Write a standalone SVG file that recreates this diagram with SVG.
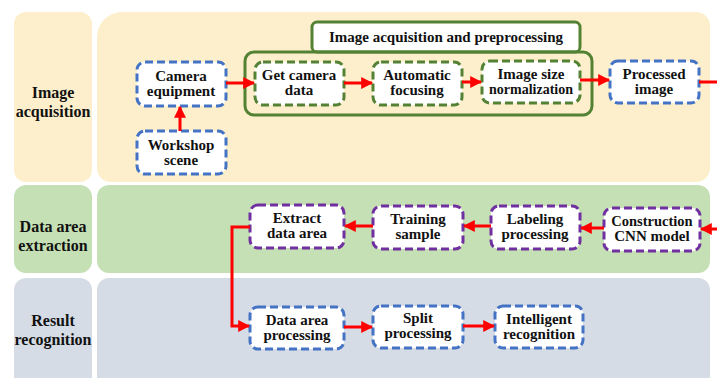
<svg xmlns="http://www.w3.org/2000/svg" width="717" height="378" viewBox="0 0 717 378">
<defs>
<marker id="ah" viewBox="0 0 10 10" refX="9" refY="5" markerWidth="4" markerHeight="4" markerUnits="strokeWidth" orient="auto">
<path d="M0,0 L10,5 L0,10 Z" fill="#FF0000"/>
</marker>
</defs>
<rect width="717" height="378" fill="#fff"/>
<g id="lanes">
<rect x="14" y="12" width="78" height="170" rx="12" fill="#FDEFCB"/>
<path d="M122,12 H696 a14,14 0 0 1 14,14 V168 a14,14 0 0 1 -14,14 H111 a14,14 0 0 1 -14,-14 V37 a25,25 0 0 1 25,-25 Z" fill="#FDEFCB"/>
<rect x="14" y="185" width="78" height="88" rx="12" fill="#C5E0B4"/>
<rect x="97" y="185" width="613" height="88" rx="12" fill="#C5E0B4"/>
<rect x="14" y="278" width="78" height="110" rx="12" fill="#D6DCE5"/>
<rect x="97" y="278" width="613" height="110" rx="12" fill="#D6DCE5"/>
</g>
<g id="preprocessing-frame">
<rect x="312" y="22" width="268" height="30" rx="5" fill="#fff" stroke="#548235" stroke-width="3"/>
<rect x="245" y="52" width="347" height="63" rx="9" fill="none" stroke="#548235" stroke-width="3"/>
</g>
<g id="nodes" fill="#fff" stroke-width="3" stroke-dasharray="8 4">
<rect id="camera" stroke="#4472C4" x="137" y="62" width="89" height="44" rx="8"/>
<rect id="workshop" stroke="#4472C4" x="137" y="131" width="89" height="43" rx="8"/>
<rect id="getdata" stroke="#548235" x="255" y="62" width="89" height="43" rx="8"/>
<rect id="focusing" stroke="#548235" x="373" y="62" width="89" height="43" rx="8"/>
<rect id="normalization" stroke="#548235" x="482" y="61" width="98" height="42" rx="8"/>
<rect id="processed" stroke="#4472C4" x="610" y="61" width="89" height="42" rx="8"/>
<rect id="cnn" stroke="#7030A0" x="604" y="208" width="96" height="43" rx="8"/>
<rect id="labeling" stroke="#7030A0" x="491" y="206" width="89" height="43" rx="8"/>
<rect id="training" stroke="#7030A0" x="373" y="206" width="90" height="43" rx="8"/>
<rect id="extract" stroke="#7030A0" x="250" y="205" width="94" height="43" rx="8"/>
<rect id="dataproc" stroke="#4472C4" x="250" y="307" width="94" height="42" rx="8"/>
<rect id="split" stroke="#4472C4" x="373" y="306" width="90" height="42" rx="8"/>
<rect id="intelligent" stroke="#4472C4" x="495" y="306" width="88" height="42" rx="8"/>
</g>
<g id="labels" font-family="Liberation Serif, serif" font-size="15" font-weight="bold" text-anchor="middle" fill="#111">
<text x="53" y="98" font-size="16">Image</text>
<text x="53" y="117" font-size="16">acquisition</text>
<text x="53" y="232" font-size="16">Data area</text>
<text x="53" y="251" font-size="16">extraction</text>
<text x="53" y="326" font-size="16">Result</text>
<text x="53" y="345" font-size="16">recognition</text>
<text x="446" y="42">Image acquisition and preprocessing</text>
<text x="181" y="81">Camera</text>
<text x="181" y="96">equipment</text>
<text x="181" y="150">Workshop</text>
<text x="181" y="165">scene</text>
<text x="299" y="80">Get camera</text>
<text x="299" y="95">data</text>
<text x="417" y="80">Automatic</text>
<text x="417" y="95">focusing</text>
<text x="531" y="79">Image size</text>
<text x="531" y="94" font-size="14">normalization</text>
<text x="654" y="79">Processed</text>
<text x="654" y="94">image</text>
<text x="652" y="226" font-size="14.5">Construction</text>
<text x="652" y="241">CNN model</text>
<text x="535" y="224">Labeling</text>
<text x="535" y="239">processing</text>
<text x="418" y="224">Training</text>
<text x="418" y="239">sample</text>
<text x="297" y="223">Extract</text>
<text x="297" y="238">data area</text>
<text x="297" y="325">Data area</text>
<text x="297" y="340">processing</text>
<text x="418" y="323">Split</text>
<text x="418" y="338">processing</text>
<text x="539" y="324">Intelligent</text>
<text x="539" y="339">recognition</text>
</g>
<g id="connectors" fill="none" stroke="#FF0000" stroke-width="3">
<line x1="180" y1="131" x2="180" y2="107" marker-end="url(#ah)"/>
<line x1="226" y1="83" x2="254" y2="83" marker-end="url(#ah)"/>
<line x1="344" y1="83" x2="372" y2="83" marker-end="url(#ah)"/>
<line x1="462" y1="82" x2="481" y2="82" marker-end="url(#ah)"/>
<line x1="580" y1="80" x2="609" y2="80" marker-end="url(#ah)"/>
<line x1="699" y1="82" x2="717" y2="82"/>
<line x1="717" y1="229" x2="701" y2="229" marker-end="url(#ah)"/>
<line x1="604" y1="228" x2="581" y2="228" marker-end="url(#ah)"/>
<line x1="491" y1="226" x2="464" y2="226" marker-end="url(#ah)"/>
<line x1="373" y1="226" x2="345" y2="226" marker-end="url(#ah)"/>
<polyline points="250,227 232,227 232,326 249,326" marker-end="url(#ah)"/>
<line x1="344" y1="327" x2="372" y2="327" marker-end="url(#ah)"/>
<line x1="463" y1="326" x2="494" y2="326" marker-end="url(#ah)"/>
</g>
</svg>
